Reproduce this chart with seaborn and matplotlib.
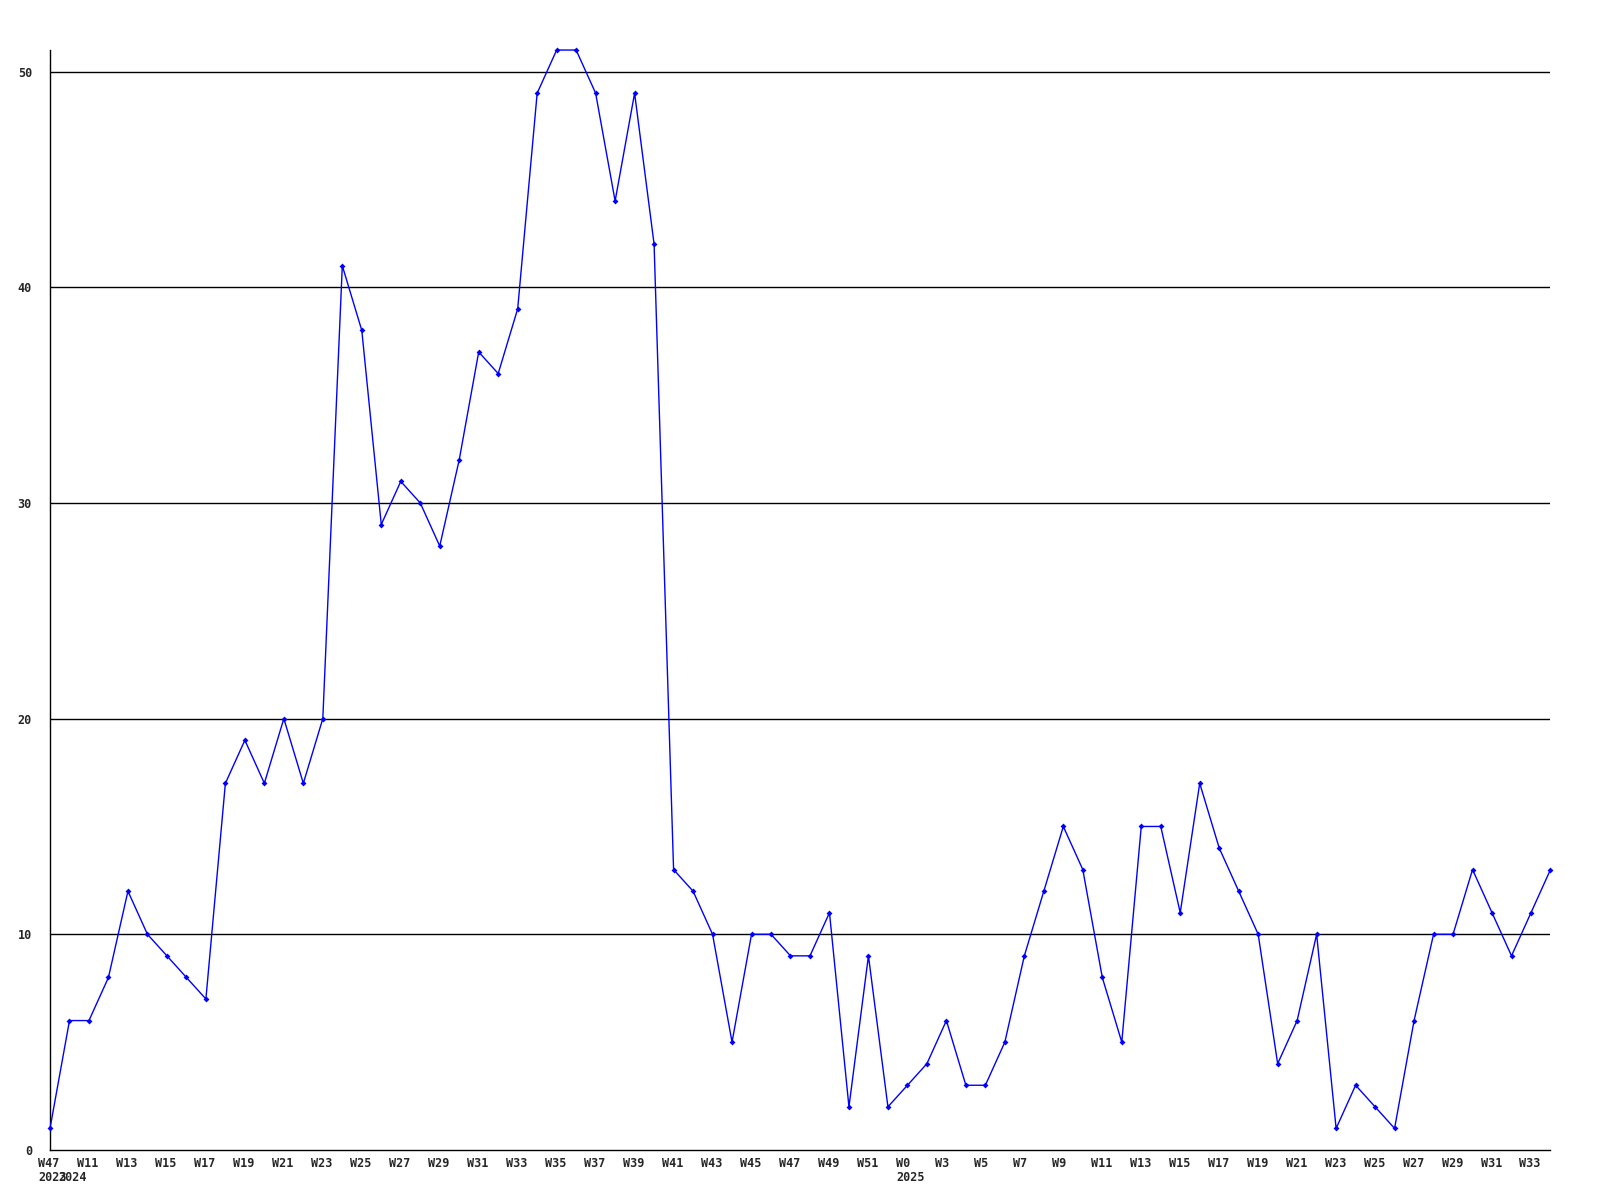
import pandas as pd
import matplotlib
matplotlib.use("Agg")
import matplotlib.pyplot as plt
import matplotlib.transforms as mtransforms
import seaborn as sns

# weekly counts, 2023 W47 .. 2025 W34
values = [1, 6, 6, 8, 12, 10, 9, 8, 7, 17, 19, 17, 20, 17, 20, 41, 38, 29, 31, 30,
          28, 32, 37, 36, 39, 49, 51, 51, 49, 44, 49, 42, 13, 12, 10, 5, 10, 10, 9, 9,
          11, 2, 9, 2, 3, 4, 6, 3, 3, 5, 9, 12, 15, 13, 8, 5, 15, 15, 11, 17,
          14, 12, 10, 4, 6, 10, 1, 3, 2, 1, 6, 10, 10, 13, 11, 9, 11, 13]

week_pos = [0] + list(range(2, 43, 2)) + list(range(44, 77, 2))
week_text = (["W47"] + ["W%d" % w for w in range(11, 52, 2)]
             + ["W0"] + ["W%d" % w for w in range(3, 34, 2)])
year_pos = [0, 1, 44]
year_text = ["2023", "2024", "2025"]
y_ticks = [0, 10, 20, 30, 40, 50]

df = pd.DataFrame({"idx": range(len(values)), "count": values})

sns.set_style("white")
fig = plt.figure(figsize=(16, 12), dpi=100)
ax = fig.add_axes([0.03125, 0.0417, 0.9378, 0.9166])

for y in y_ticks[1:]:
    ax.axhline(y, color="black", lw=1, zorder=1)

sns.lineplot(data=df, x="idx", y="count", ax=ax, color="#0000ff", lw=1,
             marker="D", markersize=3, markeredgewidth=0, zorder=3, clip_on=False)

ax.set_xlim(0, 77)
ax.set_ylim(0, 51)
ax.set_xticks(week_pos)
ax.set_xticklabels([])
# labels start a little left of their week, like the original
font = dict(family="DejaVu Sans Mono", fontweight="bold", fontsize=8.5)
week_shift = mtransforms.ScaledTranslation(-0.115, -0.07, fig.dpi_scale_trans)
year_shift = mtransforms.ScaledTranslation(-0.115, -0.215, fig.dpi_scale_trans)
for pos, txt in zip(week_pos, week_text):
    ax.text(pos, 0, txt, transform=ax.get_xaxis_transform() + week_shift,
            ha="left", va="top", **font)
for pos, txt in zip(year_pos, year_text):
    ax.text(pos, 0, txt, transform=ax.get_xaxis_transform() + year_shift,
            ha="left", va="top", **font)
ax.set_yticks(y_ticks)
ax.set_yticklabels([str(v) for v in y_ticks], **font)
ax.tick_params(axis="x", length=0, pad=5)
ax.tick_params(axis="y", length=0, pad=13)
ax.set_xlabel("")
ax.set_ylabel("")
for side in ["top", "right"]:
    ax.spines[side].set_visible(False)
for side in ["left", "bottom"]:
    ax.spines[side].set_color("black")
    ax.spines[side].set_linewidth(1)

fig.savefig("out.png", dpi=100, facecolor="white")
